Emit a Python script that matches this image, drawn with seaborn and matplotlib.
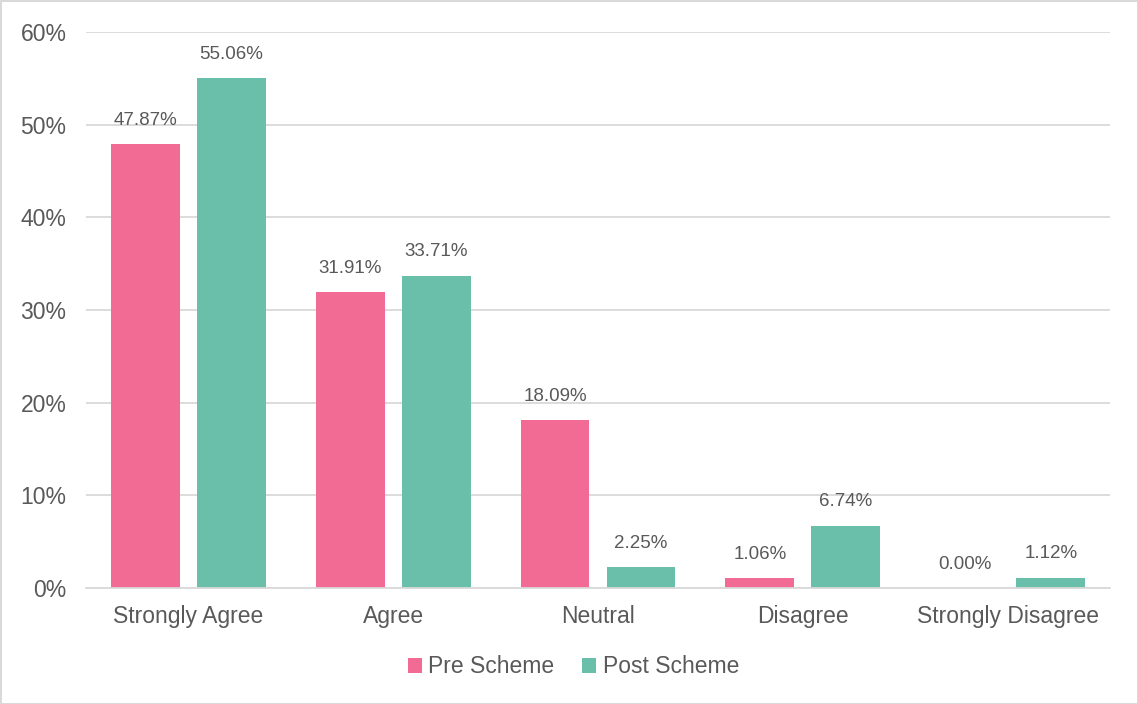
import pandas as pd
import numpy as np
import matplotlib
matplotlib.use("Agg")
import matplotlib.pyplot as plt
import seaborn as sns
from matplotlib.ticker import PercentFormatter

# ===== data =====
categories = ["Strongly Agree", "Agree", "Neutral", "Disagree", "Strongly Disagree"]
pre_scheme = [47.87, 31.91, 18.09, 1.06, 0.00]
post_scheme = [55.06, 33.71, 2.25, 6.74, 1.12]
series_names = ["Pre Scheme", "Post Scheme"]
colors = ["#F26B94", "#6ABFAB"]

df = pd.DataFrame({
    "category": categories * 2,
    "value": pre_scheme + post_scheme,
    "series": [series_names[0]] * len(categories) + [series_names[1]] * len(categories),
})

sns.set_style("white")
plt.rcParams["font.family"] = ["Liberation Sans", "DejaVu Sans"]
text_col = "#595959"

fig = plt.figure(figsize=(11.38, 7.04), dpi=100)
fig.patch.set_edgecolor("#D9D9D9")
fig.patch.set_linewidth(2)
ax = fig.add_axes([0.0755, 0.1648, 0.9, 0.7897])

sns.barplot(data=df, x="category", y="value", hue="series", order=categories,
            hue_order=series_names, palette=colors, width=0.84, gap=0.2,
            saturation=1, ax=ax, legend=True, linewidth=0)

for cont in ax.containers:
    ax.bar_label(cont, labels=[f"{v:.2f}%" for v in cont.datavalues],
                 padding=11, fontsize=13.5, color=text_col)

ax.set_ylim(0, 60)
ax.set_xlim(-0.5, 4.5)
ax.set_yticks(np.arange(0, 61, 10))
ax.yaxis.set_major_formatter(PercentFormatter(decimals=0))
ax.grid(axis="y", color="#D9D9D9", linewidth=1.3)
ax.set_axisbelow(True)
for s in ["top", "right", "left"]:
    ax.spines[s].set_visible(False)
ax.spines["bottom"].set_color("#D9D9D9")
ax.spines["bottom"].set_linewidth(1.3)
ax.tick_params(axis="both", length=0, labelsize=16.5, colors=text_col)
ax.tick_params(axis="x", pad=12)
ax.tick_params(axis="y", pad=14)
ax.set_xlabel("")
ax.set_ylabel("")

ax.legend(loc="upper center", bbox_to_anchor=(0.476, -0.084), ncol=2, frameon=False,
          fontsize=16.5, handlelength=0.6, handleheight=0.6, handletextpad=0.3,
          columnspacing=1.2, labelcolor=text_col)

fig.savefig("out.png", dpi=100)
